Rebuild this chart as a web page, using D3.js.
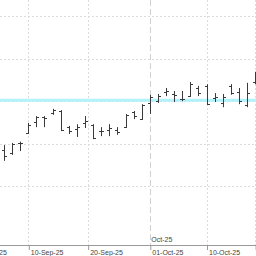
<!DOCTYPE html>
<html>
<head>
<meta charset="utf-8">
<script src="https://cdn.jsdelivr.net/npm/d3@7"></script>
<style>
  html, body { margin: 0; padding: 0; background: #fff; }
  svg { display: block; }
</style>
</head>
<body>
<svg id="chart"></svg>
<script>
// trading days shown (5-Sep-25 .. 20-Oct-25)
const fechas = ['2025-09-05','2025-09-08','2025-09-09','2025-09-10','2025-09-11','2025-09-12',
  '2025-09-15','2025-09-16','2025-09-17','2025-09-18','2025-09-19','2025-09-22','2025-09-23',
  '2025-09-24','2025-09-25','2025-09-26','2025-09-29','2025-09-30','2025-10-01','2025-10-02',
  '2025-10-03','2025-10-06','2025-10-07','2025-10-08','2025-10-09','2025-10-10','2025-10-13',
  '2025-10-14','2025-10-15','2025-10-16','2025-10-17','2025-10-20']
const aperturas = [118.5,117.8,120.2,122.5,125.1,126.3,127.2,127.7,123.9,123.5,124.9,124.4,123.1,
  123.2,123.2,123.9,127.5,125.8,129.6,130.0,132.2,131.7,130.6,131.2,133.1,133.6,130.8,129.6,
  133.6,132.2,129.1,134.5]
const maximos = [119.7,120.2,120.5,124.9,126.5,126.5,128.2,127.9,124.2,124.6,126.5,124.6,123.9,
  124.6,123.9,127.0,127.7,129.3,131.5,131.7,133.1,132.4,132.4,134.5,133.6,134.0,131.9,131.7,
  134.0,133.1,134.3,136.9]
const minimos = [116.0,117.4,118.3,122.3,123.9,123.9,126.8,123.0,122.3,121.6,123.7,121.1,121.8,
  121.8,122.1,123.7,125.8,125.6,127.0,129.6,131.2,129.8,130.0,131.0,131.2,129.1,129.8,128.6,
  131.5,129.3,128.6,134.0]
const cierres = [117.1,120.0,120.3,124.4,126.3,126.1,127.9,123.2,123.0,123.9,125.4,121.4,122.9,
  123.7,122.8,126.8,126.5,129.1,131.0,131.2,132.4,131.5,130.4,134.0,131.9,129.3,131.0,131.0,
  131.9,130.0,131.9,136.4]
const ticksPrecio = [110, 120, 130, 140, 150]
const etiquetasX = ['2025-09-01','2025-09-10','2025-09-20','2025-10-01','2025-10-10','2025-10-20']
const nivel = 130.2

const widthSVG = 256
const heightSVG = 256
const ejeY = 245

let svg = d3.select('#chart').attr('width', widthSVG).attr('height', heightSVG)

const parse = d3.timeParse('%Y-%m-%d')
const dias = fechas.map(parse)

// calendar date -> trading day index (fractional between sessions)
function indiceDe(fecha){
    let d = parse(fecha)
    if (d < dias[0]) {
        let n = d3.timeDays(d, dias[0]).filter(x => x.getDay() != 0 && x.getDay() != 6).length
        return -n
    }
    let i = d3.bisectLeft(dias, d)
    if (i < dias.length && +dias[i] == +d) return i
    let a = dias[i-1], b = dias[i]
    if (!b) return i - 1
    return (i-1) + d3.timeDay.count(a, d) / d3.timeDay.count(a, b)
}

let xScale = d3.scaleLinear().domain([0, fechas.length - 1]).range([4, 255.1])
let yScale = d3.scaleLinear().domain([100, 150]).range([229, 16])

// horizontal grid
svg.append('g').selectAll('line').data(ticksPrecio).enter().append('line')
   .attr('x1', 0).attr('x2', widthSVG)
   .attr('y1', d => Math.round(yScale(d)) + 0.5).attr('y2', d => Math.round(yScale(d)) + 0.5)
   .attr('stroke', '#dcdcdc').attr('stroke-dasharray', '2,2')

// vertical grid
svg.append('g').selectAll('line').data(etiquetasX).enter().append('line')
   .attr('x1', d => Math.round(xScale(indiceDe(d))) + 0.5)
   .attr('x2', d => Math.round(xScale(indiceDe(d))) + 0.5)
   .attr('y1', 0).attr('y2', ejeY)
   .attr('stroke', d => d.endsWith('-01') && d != etiquetasX[0] ? '#d0d0d0' : '#dcdcdc')
   .attr('stroke-dasharray', d => d.endsWith('-01') && d != etiquetasX[0] ? '6,3' : '2,2')

// level line
svg.append('line')
   .attr('x1', 0).attr('x2', widthSVG)
   .attr('y1', yScale(nivel)).attr('y2', yScale(nivel))
   .attr('stroke', '#b2f2fb').attr('stroke-width', 3)

// OHLC bars
let barras = svg.append('g').selectAll('g').data(fechas).enter().append('g')
   .attr('stroke', '#3a3a3a').attr('stroke-width', 1)
barras.append('line')
   .attr('x1', (d,i) => Math.round(xScale(i)) + 0.5).attr('x2', (d,i) => Math.round(xScale(i)) + 0.5)
   .attr('y1', (d,i) => yScale(maximos[i])).attr('y2', (d,i) => yScale(minimos[i]))
barras.append('line')
   .attr('x1', (d,i) => Math.round(xScale(i)) - 2).attr('x2', (d,i) => Math.round(xScale(i)))
   .attr('y1', (d,i) => Math.round(yScale(aperturas[i])) + 0.5)
   .attr('y2', (d,i) => Math.round(yScale(aperturas[i])) + 0.5)
barras.append('line')
   .attr('x1', (d,i) => Math.round(xScale(i)) + 1).attr('x2', (d,i) => Math.round(xScale(i)) + 3)
   .attr('y1', (d,i) => Math.round(yScale(cierres[i])) + 0.5)
   .attr('y2', (d,i) => Math.round(yScale(cierres[i])) + 0.5)

// x axis
let xAxis = d3.axisBottom(xScale)
   .tickValues(etiquetasX.map(indiceDe))
   .tickSize(5)
   .tickFormat((d,i) => d3.timeFormat('%d-%b-%y')(parse(etiquetasX[i])))
let ejeX = svg.append('g').attr('transform', 'translate(0,' + ejeY + ')').call(xAxis)
ejeX.select('.domain').attr('d', 'M0,0.5H' + widthSVG).attr('stroke', '#9a9a9a')
ejeX.selectAll('.tick line').attr('stroke', '#9a9a9a').attr('transform', 'translate(0.5,0)')
ejeX.selectAll('.tick text')
   .attr('text-anchor', 'start').attr('x', 2).attr('y', 10).attr('dy', 0)
   .attr('fill', '#444').style('font-family', 'Liberation Sans, Arial, sans-serif').style('font-size', '7px')

// month label
svg.append('text')
   .attr('x', xScale(indiceDe('2025-10-01')) + 1.5).attr('y', 242)
   .attr('fill', '#444').style('font-family', 'Liberation Sans, Arial, sans-serif').style('font-size', '7px')
   .text(d3.timeFormat('%b-%y')(parse('2025-10-01')))
</script>
</body>
</html>
